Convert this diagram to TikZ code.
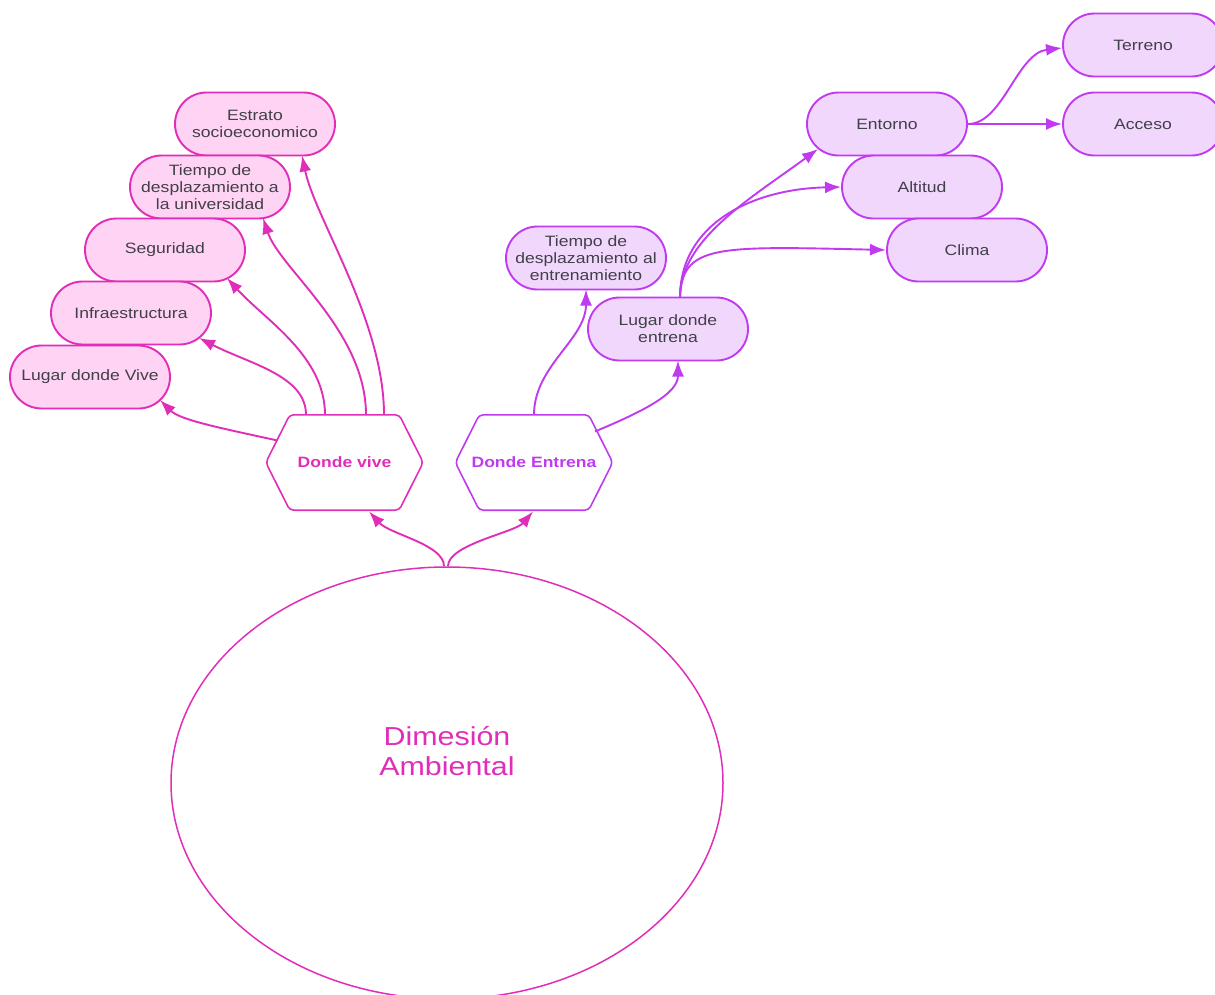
\documentclass[tikz,border=0pt]{standalone}
\usepackage{fontspec}
\setmainfont{Liberation Sans}[FakeStretch=1.17]
\usetikzlibrary{shapes.geometric,arrows.meta,calc}
\definecolor{pinkline}{HTML}{E02EB8}
\definecolor{pinkfill}{HTML}{FFD3F3}
\definecolor{purpline}{HTML}{C03AF0}
\definecolor{purpfill}{HTML}{F2D7FD}
\definecolor{txtgray}{HTML}{404048}
\newcommand\hexoutline[2]{%
  \draw[#2, line width=1.6pt, rounded corners=4pt]
    (#1.west) -- ($(#1.north west)+(24,0)$) -- ($(#1.north east)+(-24,0)$)
    -- (#1.east) -- ($(#1.south east)+(-24,0)$) -- ($(#1.south west)+(24,0)$) -- cycle;}
\begin{document}
\begin{tikzpicture}[x=1pt,y=-1pt,
  pill/.style={rectangle, rounded corners=31.5pt, minimum width=160pt, minimum height=63pt,
    inner sep=0pt, line width=1.9pt, align=center, text=txtgray,
    font=\fontsize{15}{17}\selectfont},
  pinkpill/.style={pill, draw=pinkline, fill=pinkfill},
  purppill/.style={pill, draw=purpline, fill=purpfill},
  hexbox/.style={rectangle, minimum width=157pt, minimum height=95pt, inner sep=0pt,
    font=\fontsize{15}{17}\selectfont\bfseries},
  pinkarrow/.style={draw=pinkline, line width=1.9pt, -{Latex[length=16pt,width=12pt]}, fill=none},
  purparrow/.style={draw=purpline, line width=1.9pt, -{Latex[length=16pt,width=12pt]}, fill=none}
]
\useasboundingbox (0,0) rectangle (1215,994);
\clip (0,0) rectangle (1215,994);

% central ellipse
\node[ellipse, draw=pinkline, line width=1.5pt, minimum width=552pt, minimum height=432pt,
  inner sep=0pt] (el) at (447,783) {};
\node[text=pinkline, align=center, font=\fontsize{26}{30}\selectfont, inner sep=0pt]
  (eltext) at (447,751) {Dimesión\\Ambiental};

% hexagons
\node[hexbox, text=pinkline] (dv) at (344.5,462.5) {Donde vive};
\hexoutline{dv}{pinkline}
\node[hexbox, text=purpline] (de) at (534,462.5) {Donde Entrena};
\hexoutline{de}{purpline}

% pink pills
\node[pinkpill] (est) at (255,124) {Estrato\\socioeconomico};
\node[pinkpill] (tdu) at (210,187) {Tiempo de\\desplazamiento a\\la universidad};
\node[pinkpill] (seg) at (165,250) {Seguridad};
\node[pinkpill] (inf) at (131,313) {Infraestructura};
\node[pinkpill] (lv) at (90,377) {Lugar donde Vive};

% purple pills
\node[purppill] (tde) at (586,258) {Tiempo de\\desplazamiento al\\entrenamiento};
\node[purppill] (lde) at (668,329) {Lugar donde\\entrena};
\node[purppill] (ent) at (887,124) {Entorno};
\node[purppill] (alt) at (922,187) {Altitud};
\node[purppill] (cli) at (967,250) {Clima};
\node[purppill] (ter) at (1143,45) {Terreno};
\node[purppill] (acc) at (1143,124) {Acceso};

% ellipse to hexagons
\draw[pinkarrow] ($(el.north)+(-3,0)$) .. controls +(0,-22) and +(21,23) .. ($(dv.center)+(24.5,49)$);
\draw[pinkarrow] ($(el.north)+(1,0)$) .. controls +(0,-22) and +(-18,21) .. ($(de.center)+(-1,49)$);

% Donde vive connectors
\draw[pinkarrow] ($(dv.center)+(-67,-22)$) .. controls +(-57,-12.5) and +(20,20) .. ($(lv.center)+(70,23)$);
\draw[pinkarrow] ($(dv.north)+(-38.5,0)$) .. controls +(0,-39) and +(51,26) .. ($(inf.center)+(68,25)$);
\draw[pinkarrow] ($(dv.north)+(-19.5,0)$) .. controls +(0,-59) and +(38,42) .. ($(seg.center)+(62,28)$);
\draw[pinkarrow] ($(dv.north)+(21.5,0)$) .. controls +(0,-84) and +(17,51) .. ($(tdu.center)+(53,31)$);
\draw[pinkarrow] ($(dv.north)+(39.5,0)$) .. controls +(0,-94) and +(13,63) .. ($(est.center)+(47,31.5)$);

% Donde Entrena connectors
\draw[purparrow] (de.north) .. controls +(0,-49) and +(0,50) .. ($(tde.center)+(0,31.5)$);
\draw[purparrow] ($(de.center)+(61,-31)$) .. controls +(50,-21) and +(0,33) .. ($(lde.center)+(10,31.5)$);

% Lugar donde entrena connectors
\coordinate (ldetop) at ($(lde.center)+(12,-31.5)$);
\draw[purparrow] (ldetop) .. controls +(0,-58) and +(-68,50) .. ($(ent.center)+(-69,25)$);
\draw[purparrow] (ldetop) .. controls +(0,-73) and +(-90,2) .. (alt.west);
\draw[purparrow] (ldetop) .. controls +(2,-53) and +(-170,-4) .. (cli.west);

% Entorno connectors
\draw[purparrow] (ent.east) .. controls +(35,0) and +(-45,5) .. ($(ter.west)+(0,3)$);
\draw[purparrow] (ent.east) -- (acc.west);
\end{tikzpicture}
\end{document}
